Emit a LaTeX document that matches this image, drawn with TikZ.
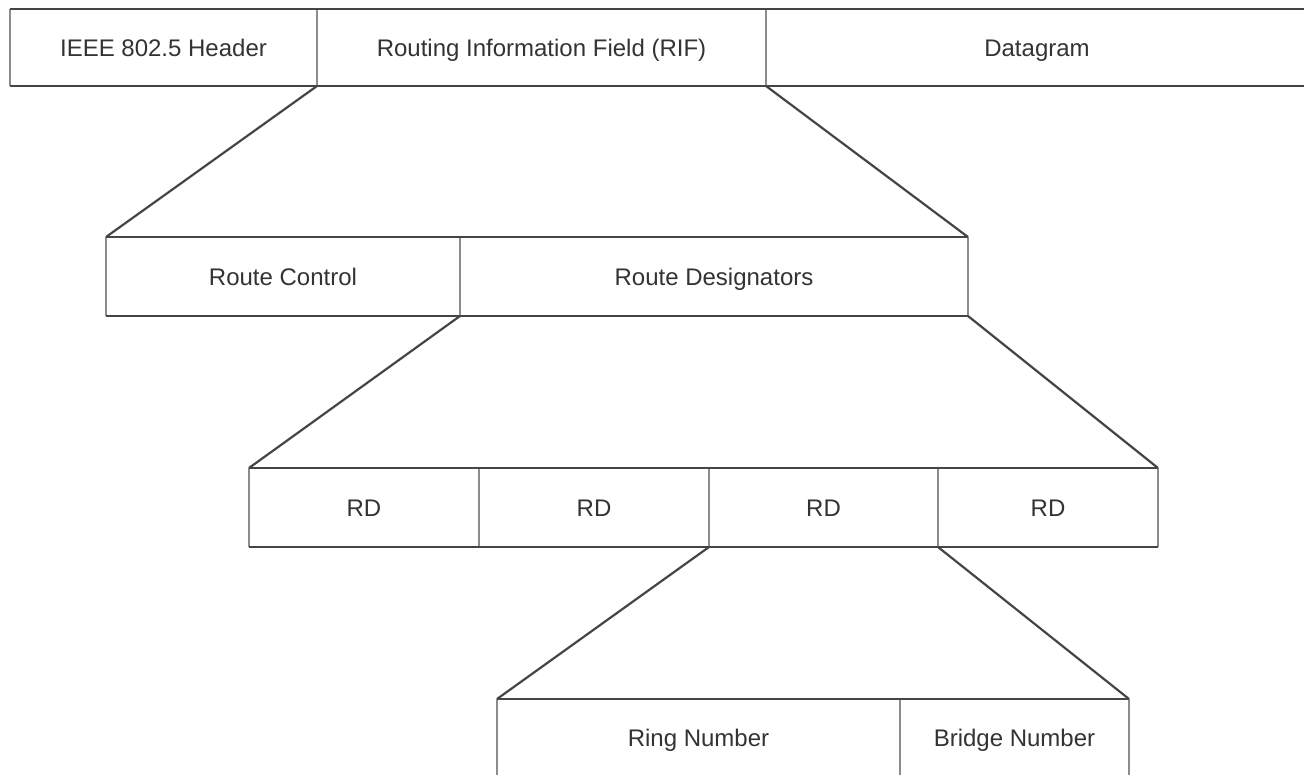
\documentclass[tikz,border=0pt]{standalone}
\usepackage{fontspec}
\setmainfont{Liberation Sans}
\definecolor{txt}{HTML}{333333}
\definecolor{hl}{HTML}{454545}
\definecolor{vl}{HTML}{8C8C8C}
\begin{document}
\begin{tikzpicture}[x=1pt,y=1pt,
  field/.style={inner sep=0pt,outer sep=0pt,text=txt,text height=17pt,text depth=0pt,font=\fontsize{24}{28}\selectfont},
  hline/.style={draw=hl,line width=2.6pt},
  vline/.style={draw=vl,line width=2.2pt},
  zoomline/.style={draw=hl,line width=2.2pt}]
\useasboundingbox (0,0) rectangle (1304,-774);
\clip (0,0) rectangle (1304,-774);
% row 1
\node[field,minimum width=307,minimum height=77] (hdr) at (163.5,-47.5) {IEEE 802.5 Header};
\node[field,minimum width=449,minimum height=77] (rif) at (541.5,-47.5) {Routing Information Field (RIF)};
\node[field,minimum width=554,minimum height=77] (dg) at (1043,-47.5) {};
\node[field] at (1037,-47.5) {Datagram};
% row 2
\node[field,minimum width=354,minimum height=79] (rc) at (283,-276.5) {Route Control};
\node[field,minimum width=508,minimum height=79] (rdes) at (714,-276.5) {Route Designators};
% row 3
\node[field,minimum width=230,minimum height=79] (rd1) at (364,-507.5) {RD};
\node[field,minimum width=230,minimum height=79] (rd2) at (594,-507.5) {RD};
\node[field,minimum width=229,minimum height=79] (rd3) at (823.5,-507.5) {RD};
\node[field,minimum width=220,minimum height=79] (rd4) at (1048,-507.5) {RD};
% row 4
\node[field,minimum width=403,minimum height=77] (ring) at (698.5,-737.5) {Ring Number};
\node[field,minimum width=229,minimum height=77] (bridge) at (1014.5,-737.5) {Bridge Number};
% borders row 1
\draw[vline] (hdr.north west) -- (hdr.south west);
\draw[vline] (hdr.north east) -- (hdr.south east);
\draw[vline] (rif.north east) -- (rif.south east);
\draw[hline] (hdr.north west) -- (dg.north east);
\draw[hline] (hdr.south west) -- (dg.south east);
% borders row 2
\draw[vline] (rc.north west) -- (rc.south west);
\draw[vline] (rc.north east) -- (rc.south east);
\draw[vline] (rdes.north east) -- (rdes.south east);
\draw[hline] (rc.north west) -- (rdes.north east);
\draw[hline] (rc.south west) -- (rdes.south east);
% borders row 3
\draw[vline] (rd1.north west) -- (rd1.south west);
\draw[vline] (rd1.north east) -- (rd1.south east);
\draw[vline] (rd2.north east) -- (rd2.south east);
\draw[vline] (rd3.north east) -- (rd3.south east);
\draw[vline] (rd4.north east) -- (rd4.south east);
\draw[hline] (rd1.north west) -- (rd4.north east);
\draw[hline] (rd1.south west) -- (rd4.south east);
% borders row 4
\draw[vline] (ring.north west) -- (ring.south west);
\draw[vline] (ring.north east) -- (ring.south east);
\draw[vline] (bridge.north east) -- (bridge.south east);
\draw[hline] (ring.north west) -- (bridge.north east);
\draw[hline] (ring.south west) -- (bridge.south east);
% zoom connectors
\draw[zoomline] (rif.south west) -- (rc.north west);
\draw[zoomline] (rif.south east) -- (rdes.north east);
\draw[zoomline] (rdes.south west) -- (rd1.north west);
\draw[zoomline] (rdes.south east) -- (rd4.north east);
\draw[zoomline] (rd3.south west) -- (ring.north west);
\draw[zoomline] (rd4.south west) -- (bridge.north east);
\end{tikzpicture}
\end{document}
